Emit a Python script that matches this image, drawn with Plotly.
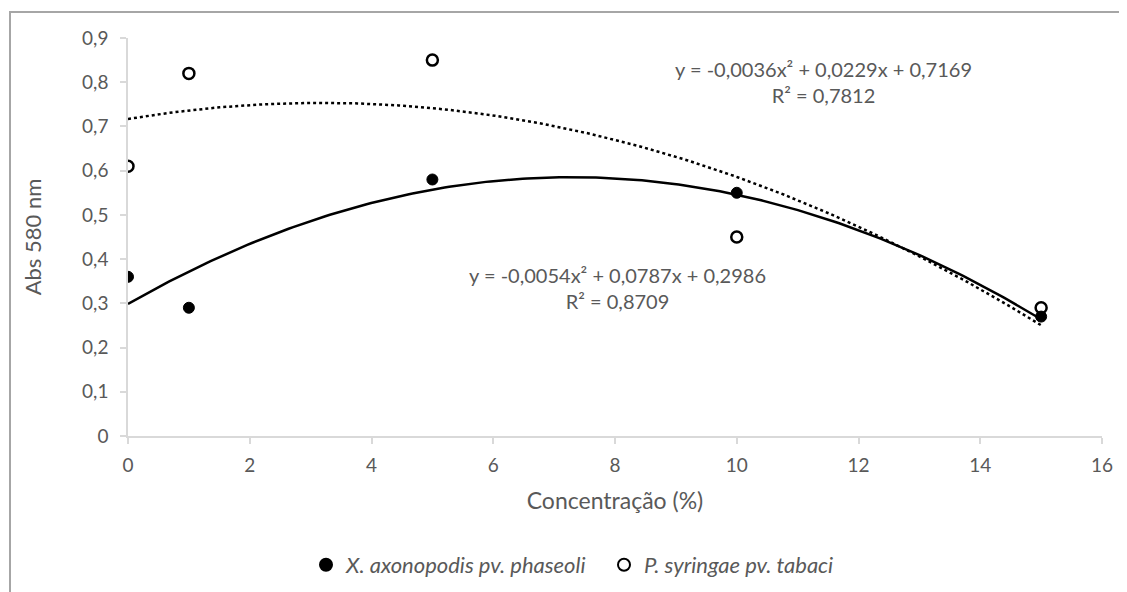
import numpy as np
import plotly.graph_objects as go

# ---- data ----
conc = [0, 1, 5, 10, 15]
xap_abs = [0.36, 0.29, 0.58, 0.55, 0.27]      # X. axonopodis pv. phaseoli
pst_abs = [0.61, 0.82, 0.85, 0.45, 0.29]      # P. syringae pv. tabaci

# polynomial trendline coefficients (a, b, c) for y = a x^2 + b x + c, as printed on chart
xap_coef = [-0.0054, 0.0787, 0.2986]
pst_coef = [-0.0036, 0.0229, 0.7169]
xap_eq = "y = -0,0054x² + 0,0787x + 0,2986<br>R² = 0,8709"
pst_eq = "y = -0,0036x² + 0,0229x + 0,7169<br>R² = 0,7812"

series_names = ["X. axonopodis pv. phaseoli", "P. syringae pv. tabaci"]

y_tickvals = [0, 0.1, 0.2, 0.3, 0.4, 0.5, 0.6, 0.7, 0.8, 0.9]
y_ticktext = ["0", "0,1", "0,2", "0,3", "0,4", "0,5", "0,6", "0,7", "0,8", "0,9"]
x_tickvals = [0, 2, 4, 6, 8, 10, 12, 14, 16]

FONT = "Lato"
GRAY = "#595959"
AX = "#d9d9d9"

# page body has an 8px default margin; plot area target: x 128..1102, y 38..436
OFF = 8
L, T, R, B = 128, 38, 1102, 436
PW, PH = R - L, B - T

def px(xp):
    return (xp - L) / PW

def py(yp):
    return (B - yp) / PH

xt = np.linspace(min(conc), max(conc), 200)
xap_fit = np.polyval(xap_coef, xt)
pst_fit = np.polyval(pst_coef, xt)

fig = go.Figure()
fig.add_trace(go.Scatter(x=xt, y=xap_fit, mode="lines",
                         line=dict(color="black", width=2.5), showlegend=False, hoverinfo="skip"))
fig.add_trace(go.Scatter(x=xt, y=pst_fit, mode="lines",
                         line=dict(color="black", width=2.5, dash="dot"), showlegend=False, hoverinfo="skip"))
fig.add_trace(go.Scatter(x=conc, y=xap_abs, mode="markers", name="<i>" + series_names[0] + "</i>",
                         marker=dict(symbol="circle", size=11, color="black", line=dict(color="black", width=1))))
fig.add_trace(go.Scatter(x=conc, y=pst_abs, mode="markers", name="<i>" + series_names[1] + "</i>",
                         marker=dict(symbol="circle-open", size=11, color="black", line=dict(color="black", width=2.5))))

fig.add_annotation(x=px(823), xref="paper", y=py(82), yref="paper", text=pst_eq, showarrow=False,
                   xanchor="center", yanchor="middle", font=dict(family=FONT, size=20, color=GRAY))
fig.add_annotation(x=px(617), xref="paper", y=py(288), yref="paper", text=xap_eq, showarrow=False,
                   xanchor="center", yanchor="middle", font=dict(family=FONT, size=20, color=GRAY))

fig.add_shape(type="rect", xref="paper", yref="paper",
              x0=px(10), x1=1.2, y0=-0.6, y1=py(12),
              line=dict(color="#a6a6a6", width=2), fillcolor="rgba(0,0,0,0)", layer="below")

fig.update_layout(
    width=1127, height=592,
    margin=dict(l=L - OFF, r=1127 - (R - OFF), t=T - OFF, b=592 - (B - OFF)),
    paper_bgcolor="white", plot_bgcolor="white",
    font=dict(family=FONT, size=19, color=GRAY),
    xaxis=dict(range=[0, 16], tickvals=x_tickvals, showgrid=False, zeroline=False,
               showline=True, linecolor=AX, linewidth=1.5, ticks="outside", tickcolor=AX,
               ticklen=6, tickwidth=1.5, tickfont=dict(size=19, color=GRAY), ticklabelstandoff=5,
               title=dict(text="Concentração (%)", font=dict(size=23, color=GRAY), standoff=18)),
    yaxis=dict(range=[0, 0.9], tickvals=y_tickvals, ticktext=y_ticktext, showgrid=False,
               zeroline=False, showline=True, linecolor=AX, linewidth=1.5, ticks="outside",
               tickcolor=AX, ticklen=6, tickwidth=1.5, tickfont=dict(size=19, color=GRAY),
               ticklabelstandoff=8,
               title=dict(text="Abs 580 nm", font=dict(size=22, color=GRAY), standoff=34)),
    legend=dict(orientation="h", x=px(306), xanchor="left", y=py(565), yanchor="middle",
                font=dict(size=22, color=GRAY), itemsizing="constant", tracegroupgap=0,
                entrywidth=253, entrywidthmode="pixels"),
)

fig.write_html("out.html")
